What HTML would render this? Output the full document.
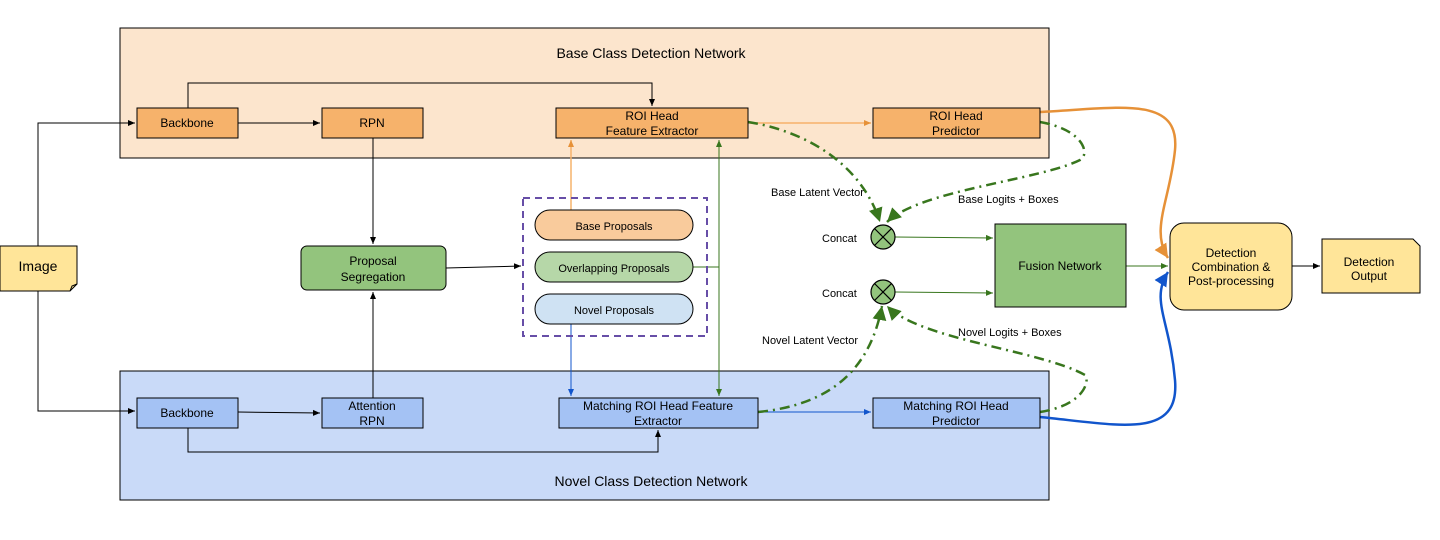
<!DOCTYPE html>
<html><head><style>
body{margin:0;background:#fff;}
svg{display:block;font-family:"Liberation Sans",Arial,sans-serif;}
</style></head><body>
<svg width="1440" height="540" viewBox="0 0 1440 540" xmlns="http://www.w3.org/2000/svg">
<defs>
<marker id="ak" markerWidth="8" markerHeight="8" refX="7" refY="4" orient="auto" markerUnits="userSpaceOnUse"><path d="M0,1 L7,4 L0,7z" fill="#000"/></marker>
<marker id="ao" markerWidth="8" markerHeight="8" refX="7" refY="4" orient="auto" markerUnits="userSpaceOnUse"><path d="M0,1 L7,4 L0,7z" fill="#e69138"/></marker>
<marker id="ag" markerWidth="8" markerHeight="8" refX="7" refY="4" orient="auto" markerUnits="userSpaceOnUse"><path d="M0,1 L7,4 L0,7z" fill="#38761d"/></marker>
<marker id="ab" markerWidth="8" markerHeight="8" refX="7" refY="4" orient="auto" markerUnits="userSpaceOnUse"><path d="M0,1 L7,4 L0,7z" fill="#1155cc"/></marker>
<marker id="aoL" markerWidth="16" markerHeight="16" refX="14" refY="8" orient="auto" markerUnits="userSpaceOnUse"><path d="M0,1 L14,8 L0,15z" fill="#e69138"/></marker>
<marker id="abL" markerWidth="16" markerHeight="16" refX="14" refY="8" orient="auto" markerUnits="userSpaceOnUse"><path d="M0,1 L14,8 L0,15z" fill="#1155cc"/></marker>
<marker id="agL" markerWidth="16" markerHeight="16" refX="14" refY="8" orient="auto" markerUnits="userSpaceOnUse"><path d="M0,1 L14,8 L0,15z" fill="#38761d"/></marker>
</defs>

<!-- containers -->
<rect x="120" y="28" width="929" height="130" fill="#fce5cd" stroke="#000" stroke-width="1"/>
<text x="651" y="58" font-size="14" text-anchor="middle">Base Class Detection Network</text>
<rect x="120" y="371" width="929" height="129" fill="#c9daf8" stroke="#000" stroke-width="1"/>
<text x="651" y="486" font-size="14" text-anchor="middle">Novel Class Detection Network</text>

<!-- black connectors -->
<polyline points="188,108 188,83 652,83 652,106" fill="none" stroke="#000" marker-end="url(#ak)"/>
<polyline points="188,428 188,452 658,452 658,430" fill="none" stroke="#000" marker-end="url(#ak)"/>
<polyline points="38,246 38,123 135,123" fill="none" stroke="#000" marker-end="url(#ak)"/>
<polyline points="38,291 38,411 135,411" fill="none" stroke="#000" marker-end="url(#ak)"/>
<line x1="238" y1="123" x2="320" y2="123" stroke="#000" marker-end="url(#ak)"/>
<line x1="238" y1="412" x2="320" y2="413" stroke="#000" marker-end="url(#ak)"/>
<line x1="373" y1="138" x2="373" y2="244" stroke="#000" marker-end="url(#ak)"/>
<line x1="373" y1="398" x2="373" y2="292" stroke="#000" marker-end="url(#ak)"/>
<line x1="446" y1="268" x2="521" y2="266" stroke="#000" marker-end="url(#ak)"/>
<line x1="1292" y1="266" x2="1320" y2="266" stroke="#000" marker-end="url(#ak)"/>

<!-- colored thin connectors -->
<line x1="571" y1="210" x2="571" y2="140" stroke="#f6b26b" stroke-width="1.5" marker-end="url(#ao)"/>
<line x1="748" y1="123" x2="871" y2="123" stroke="#f6b26b" stroke-width="1.5" marker-end="url(#ao)"/>
<polyline points="693,267 719,267" fill="none" stroke="#38761d"/>
<line x1="719" y1="267" x2="719" y2="140" stroke="#38761d" marker-end="url(#ag)"/>
<line x1="719" y1="267" x2="719" y2="396" stroke="#38761d" marker-end="url(#ag)"/>
<line x1="571" y1="324" x2="571" y2="396" stroke="#1155cc" marker-end="url(#ab)"/>
<line x1="758" y1="412" x2="871" y2="412" stroke="#1155cc" marker-end="url(#ab)"/>
<line x1="895" y1="237" x2="993" y2="238" stroke="#38761d" marker-end="url(#ag)"/>
<line x1="895" y1="292" x2="993" y2="293" stroke="#38761d" marker-end="url(#ag)"/>
<line x1="1126" y1="266" x2="1168" y2="266" stroke="#38761d" marker-end="url(#ag)"/>

<!-- thick curves -->
<path d="M1040,112 C1120,108 1180,95 1175,150 C1170,200 1150,230 1168,258" fill="none" stroke="#e69138" stroke-width="2.5" marker-end="url(#aoL)"/>
<path d="M1040,417 C1120,425 1180,440 1175,380 C1170,320 1150,300 1168,272" fill="none" stroke="#1155cc" stroke-width="2.5" marker-end="url(#abL)"/>

<!-- dash-dot green -->
<g fill="none" stroke="#38761d" stroke-width="2.5" stroke-dasharray="10,5,2,5">
<path d="M748,122 C800,130 860,160 880,222" marker-end="url(#agL)"/>
<path d="M1040,122 C1085,130 1090,155 1080,160 C1040,180 920,190 887,222" marker-end="url(#agL)"/>
<path d="M758,412 C830,405 870,370 882,306" marker-end="url(#agL)"/>
<path d="M1040,412 C1085,405 1090,380 1085,375 C1040,350 920,340 887,306" marker-end="url(#agL)"/>
</g>

<!-- labels -->
<g font-size="11" fill="#000">
<text x="771" y="196">Base Latent Vector</text>
<text x="958" y="203">Base Logits + Boxes</text>
<text x="822" y="242">Concat</text>
<text x="822" y="297">Concat</text>
<text x="762" y="344">Novel Latent Vector</text>
<text x="958" y="336">Novel Logits + Boxes</text>
</g>

<!-- concat circles -->
<g stroke="#000" stroke-width="1.2" fill="#93c47d">
<circle cx="883" cy="237" r="12"/><line x1="874.5" y1="228.5" x2="891.5" y2="245.5"/><line x1="891.5" y1="228.5" x2="874.5" y2="245.5"/>
<circle cx="883" cy="292" r="12"/><line x1="874.5" y1="283.5" x2="891.5" y2="300.5"/><line x1="891.5" y1="283.5" x2="874.5" y2="300.5"/>
</g>

<!-- top nodes -->
<g stroke="#000" stroke-width="1" fill="#f6b26b">
<rect x="137" y="108" width="101" height="30"/>
<rect x="322" y="108" width="101" height="30"/>
<rect x="556" y="108" width="192" height="30"/>
<rect x="873" y="108" width="167" height="30"/>
</g>
<g font-size="12" text-anchor="middle">
<text x="187" y="127">Backbone</text>
<text x="372" y="127">RPN</text>
<text x="652" y="120">ROI Head</text><text x="652" y="135">Feature Extractor</text>
<text x="956" y="120">ROI Head</text><text x="956" y="135">Predictor</text>
</g>

<!-- bottom nodes -->
<g stroke="#000" stroke-width="1" fill="#a4c2f4">
<rect x="137" y="398" width="101" height="30"/>
<rect x="322" y="398" width="101" height="30"/>
<rect x="559" y="398" width="199" height="30"/>
<rect x="873" y="398" width="167" height="30"/>
</g>
<g font-size="12" text-anchor="middle">
<text x="187" y="417">Backbone</text>
<text x="372" y="410">Attention</text><text x="372" y="425">RPN</text>
<text x="658" y="410">Matching ROI Head Feature</text><text x="658" y="425">Extractor</text>
<text x="956" y="410">Matching ROI Head</text><text x="956" y="425">Predictor</text>
</g>

<!-- image note -->
<path d="M0,246 L77,246 L77,284 L70,291 L0,291 Z" fill="#ffe599" stroke="#000"/>
<path d="M70,291 L72,286 L77,284" fill="none" stroke="#000"/>
<text x="38" y="271" font-size="14" text-anchor="middle">Image</text>

<!-- proposal segregation -->
<rect x="301" y="246" width="145" height="44" rx="6" fill="#93c47d" stroke="#000"/>
<text x="373" y="265" font-size="12" text-anchor="middle">Proposal</text>
<text x="373" y="281" font-size="12" text-anchor="middle">Segregation</text>

<!-- dashed group -->
<rect x="523" y="198" width="184" height="138" fill="none" stroke="#674ea7" stroke-width="2" stroke-dasharray="7,5"/>
<rect x="535" y="210" width="158" height="30" rx="15" fill="#f9cb9c" stroke="#000"/>
<rect x="535" y="252" width="158" height="30" rx="15" fill="#b6d7a8" stroke="#000"/>
<rect x="535" y="294" width="158" height="30" rx="15" fill="#cfe2f3" stroke="#000"/>
<g font-size="11" text-anchor="middle">
<text x="614" y="230">Base Proposals</text>
<text x="614" y="272">Overlapping Proposals</text>
<text x="614" y="314">Novel Proposals</text>
</g>

<!-- fusion -->
<rect x="995" y="224" width="131" height="83" fill="#93c47d" stroke="#000"/>
<text x="1060" y="270" font-size="12" text-anchor="middle">Fusion Network</text>

<!-- detection combination -->
<rect x="1170" y="223" width="122" height="87" rx="14" fill="#ffe599" stroke="#000"/>
<g font-size="12" text-anchor="middle">
<text x="1231" y="257">Detection</text>
<text x="1231" y="271">Combination &amp;</text>
<text x="1231" y="285">Post-processing</text>
</g>

<!-- detection output -->
<path d="M1322,239 L1413,239 L1420,246 L1420,293 L1322,293 Z" fill="#ffe599" stroke="#000"/>
<text x="1369" y="266" font-size="12" text-anchor="middle">Detection</text>
<text x="1369" y="280" font-size="12" text-anchor="middle">Output</text>
</svg>
</body></html>
